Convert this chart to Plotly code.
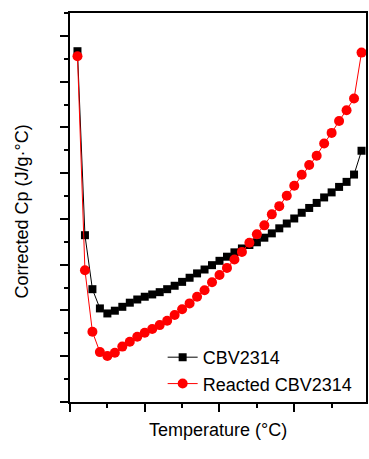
import plotly.graph_objects as go

temperature = [round(0.2 * k, 1) for k in range(1, 40)]
cbv2314 = [15.33, 7.29, 4.93, 4.09, 3.87, 3.99, 4.16, 4.34, 4.48, 4.60,
           4.70, 4.80, 4.93, 5.08, 5.25, 5.43, 5.62, 5.79, 5.98, 6.17,
           6.35, 6.54, 6.71, 6.86, 6.98, 7.18, 7.37, 7.59, 7.80, 8.02,
           8.27, 8.48, 8.70, 8.94, 9.16, 9.40, 9.62, 9.94, 10.98]
reacted_cbv2314 = [15.11, 5.76, 3.07, 2.18, 2.01, 2.15, 2.42, 2.63, 2.85, 3.03,
                   3.19, 3.36, 3.55, 3.80, 4.05, 4.31, 4.60, 4.88, 5.23, 5.55,
                   5.86, 6.23, 6.56, 6.96, 7.33, 7.72, 8.20, 8.56, 9.01, 9.45,
                   9.93, 10.36, 10.76, 11.30, 11.76, 12.28, 12.75, 13.26, 15.27]

FONT = "Liberation Sans, Arial, sans-serif"

fig = go.Figure()
fig.add_trace(go.Scatter(
    x=temperature, y=cbv2314, name="CBV2314", mode="lines+markers",
    line=dict(color="black", width=1),
    marker=dict(symbol="square", size=8, color="black"),
))
fig.add_trace(go.Scatter(
    x=temperature, y=reacted_cbv2314, name="Reacted CBV2314", mode="lines+markers",
    line=dict(color="red", width=1),
    marker=dict(symbol="circle", size=10, color="red"),
))

line_common = dict(showline=True, linecolor="black", linewidth=2,
                   showgrid=False, zeroline=False, showticklabels=False)

fig.update_layout(
    width=369, height=459,
    margin=dict(l=70, r=1, t=13, b=57),
    paper_bgcolor="white", plot_bgcolor="white",
    font=dict(family=FONT, size=18, color="black"),
    showlegend=True,
    legend=dict(x=0.313, y=0.162, xanchor="left", yanchor="top",
                bgcolor="rgba(0,0,0,0)", borderwidth=0,
                font=dict(family=FONT, size=18), tracegroupgap=0),
    xaxis=dict(range=[0, 7.92], ticks="outside", ticklen=8, tickwidth=1.5, tickcolor="black",
               dtick=2, tick0=0, mirror=True,
               minor=dict(ticks="outside", dtick=1, ticklen=4, tickwidth=1.5, tickcolor="black"),
               **line_common),
    yaxis=dict(range=[0, 17], ticks="outside", ticklen=8, tickwidth=1.5, tickcolor="black",
               dtick=2, tick0=0, mirror=True,
               minor=dict(ticks="outside", dtick=1, ticklen=4, tickwidth=1.5, tickcolor="black"),
               **line_common),
    annotations=[
        dict(text="Temperature (°C)", xref="paper", yref="paper",
             x=0.5, y=-0.072, xanchor="center", yanchor="middle",
             showarrow=False, font=dict(family=FONT, size=18)),
        dict(text="Corrected Cp (J/g·°C)", xref="paper", yref="paper",
             x=-0.162, y=0.49, xanchor="center", yanchor="middle", textangle=-90,
             showarrow=False, font=dict(family=FONT, size=18)),
    ],
)

fig.write_html("out.html", config={"displayModeBar": False},
               post_script="document.body.style.margin='0';document.body.style.overflow='hidden';")
